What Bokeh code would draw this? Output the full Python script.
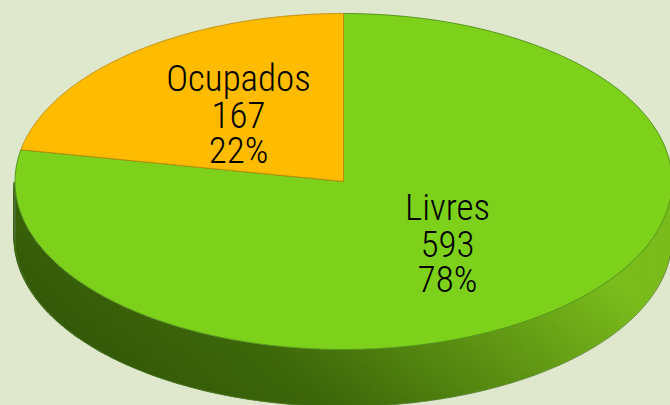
import numpy as np
from bokeh.plotting import figure
from bokeh.models import Range1d
from bokeh.core.properties import value
from bokeh.embed import file_html
from bokeh.resources import INLINE

categories = ["Livres", "Ocupados"]
counts = [593, 167]
percents = ["78%", "22%"]
colors = ["#7dd11a", "#ffbb00"]
edge_colors = ["#4f8f1a", "#b98a10"]
label_x = [447, 238]
label_y = [207, 78]
line_step = 36

BG = "#dfe8cc"
CX, CY, RX, RY, DEPTH = 343, 181, 328.5, 168, 57

p = figure(width=670, height=405, x_range=Range1d(0, 670), y_range=Range1d(405, 0),
           output_backend="svg", toolbar_location=None, min_border=0,
           background_fill_color=BG, border_fill_color=BG, outline_line_color=None)
p.axis.visible = False
p.grid.visible = False


def ex(a):
    return CX + RX * np.sin(a)


def ey(a):
    return CY - RY * np.cos(a)


def shade(x, y):
    t = np.clip((x - 14) / 656 + 0.42 * (0.5 - (y - 181) / 224) + 0.07, 0, 1)
    stops = np.array([[0x32, 0x55, 0x08], [0x3e, 0x68, 0x0a], [0x5a, 0x8e, 0x12], [0x7a, 0xbc, 0x1c]], float)
    pos = [0, 0.35, 0.65, 1]
    rgb = [np.interp(t, pos, stops[:, k]) for k in range(3)]
    return "#%02x%02x%02x" % tuple(int(round(c)) for c in rgb)


# side wall drawn as small overlapping cells, following the front half of the rim
xs, ys, cs = [], [], []
angles = np.linspace(np.pi / 2, 3 * np.pi / 2, 330)
for a0, a1 in zip(angles[:-1], angles[1:]):
    x0, x1 = ex(a0), ex(a1)
    y00, y01 = ey(a0), ey(a1)
    xe = x1 - 1.5          # cells run right to left: overlap the next one
    for k in range(8):
        d0, d1 = DEPTH * k / 8, DEPTH * (k + 1) / 8
        d1e = d1 + 1.5 if k < 7 else d1
        xs.append([x0, xe, xe, x0])
        ys.append([y00 + d0, y01 + d0, y01 + d1e, y00 + d1e])
        cs.append(shade((x0 + x1) / 2, (y00 + y01) / 2 + (d0 + d1) / 2))
p.patches(xs, ys, fill_color=cs, line_color=None)

# outer outline of the wall
a = np.linspace(np.pi / 2, 3 * np.pi / 2, 300)
p.line(ex(a), ey(a) + DEPTH, line_color="#4f7a2a", line_width=1, line_alpha=0.8)
p.line([ex(np.pi / 2)] * 2, [CY, CY + DEPTH], line_color="#4f7a2a", line_width=1, line_alpha=0.8)
p.line([ex(3 * np.pi / 2)] * 2, [CY, CY + DEPTH], line_color="#6f7f70", line_width=1, line_alpha=0.8)

# top face: slices start at twelve o'clock and run clockwise
total = sum(counts)
start = 0.0
for name, n, col, edge in zip(categories, counts, colors, edge_colors):
    sweep = 2 * np.pi * n / total
    t = np.linspace(start, start + sweep, 400)
    p.patch(np.r_[CX, ex(t)], np.r_[CY, ey(t)], fill_color=col, line_color=edge, line_width=1, line_alpha=0.9)
    start += sweep

# labels
for i, name in enumerate(categories):
    rows = [name, str(counts[i]), percents[i]]
    p.text([label_x[i]] * 3, [label_y[i] + line_step * j for j in range(3)], text=rows,
           text_font=value("Roboto Condensed Light"), text_font_size="37px",
           text_color="#000000", text_align="center", text_baseline="middle")

html = file_html(p, INLINE)
html = html.replace("<head>", "<head><style>html,body{margin:0;padding:0;overflow:hidden;background:%s}</style>" % BG, 1)
open("out.html", "w").write(html)
